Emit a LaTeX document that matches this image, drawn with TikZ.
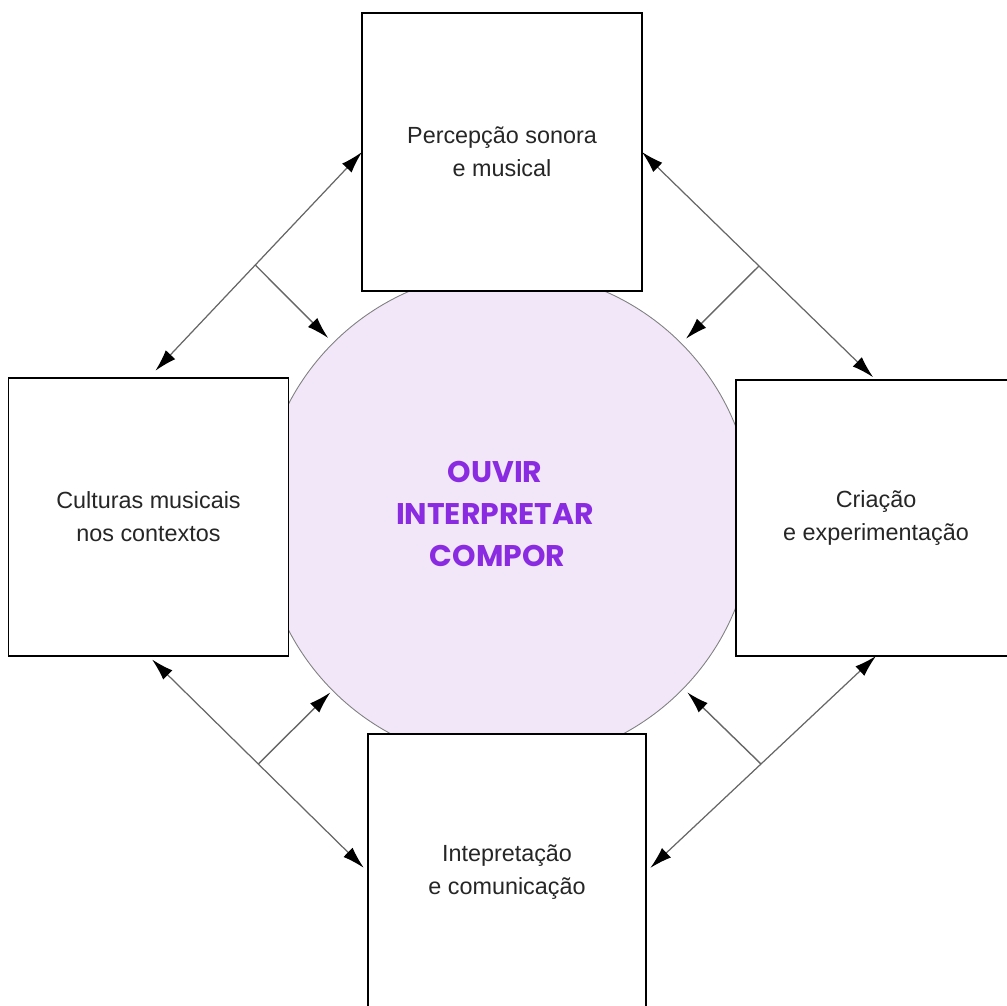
\documentclass[tikz,border=0pt]{standalone}
\usepackage{fontspec}
\setmainfont{Liberation Sans}
\newfontfamily\titlefont{Poppins}
\usetikzlibrary{calc,arrows.meta}
\definecolor{corefill}{RGB}{241,231,249}
\definecolor{coretext}{RGB}{138,43,226}
\begin{document}
\begin{tikzpicture}[x=0.02cm,y=-0.02cm,inner sep=0pt,outer sep=0pt,
areablock/.style={draw,fill=white,rectangle,minimum width=5.6cm,minimum height=5.56cm,line width=1.1pt,align=center,text=black!85,font=\fontsize{13.3}{18.7}\selectfont},
link/.style={draw=black!60,line width=0.7pt,{Latex[length=4.4mm,width=2.6mm,color=black]}-{Latex[length=4.4mm,width=2.6mm,color=black]}},
branch/.style={draw=black!60,line width=0.8pt,-{Latex[length=4.4mm,width=2.6mm,color=black]}}]
\useasboundingbox (0,0) rectangle (1007,1006);

\draw (507,517) node[draw=black!50,fill=corefill,circle,minimum size=9.84cm,line width=0.5pt] (core) {};
\draw (502,152) node[areablock] (top) {Percepção sonora\\e musical};
\draw (148.5,517) node[areablock] (left) {Culturas musicais\\nos contextos};
\draw (876,518) node[areablock,minimum height=5.52cm] (right) {Criação\\e experimentação};
\draw (507,872) node[areablock,minimum width=5.56cm,minimum height=5.52cm] (bottom) {Intepretação\\e comunicação};
\draw (495,514) node[align=center,text=coretext,font=\titlefont\bfseries\fontsize{17}{23.8}\selectfont] (title) {OUVIR\\INTERPRETAR\hspace*{0.3cm}\\\hspace*{0.1cm}COMPOR};

\draw[link,shorten <=0.2cm] (left.north) -- coordinate[midway] (mtl) (top.west);
\draw[link,shorten >=0.08cm] (top.east) -- coordinate[midway] (mtr) (right.north);
\draw[link,shorten <=0.1cm,shorten >=0.12cm] (left.south) -- coordinate[midway] (mbl) (bottom.west);
\draw[link,shorten <=0.12cm] (bottom.east) -- coordinate[midway] (mbr) (right.south);
\draw[branch] (mtl) -- ($(mtl)!0.29!(core.center)$);
\draw[branch] (mtr) -- ($(mtr)!0.29!(core.center)$);
\draw[branch] (mbl) -- ($(mbl)!0.29!(core.center)$);
\draw[branch] (mbr) -- ($(mbr)!0.29!(core.center)$);
\end{tikzpicture}
\end{document}
